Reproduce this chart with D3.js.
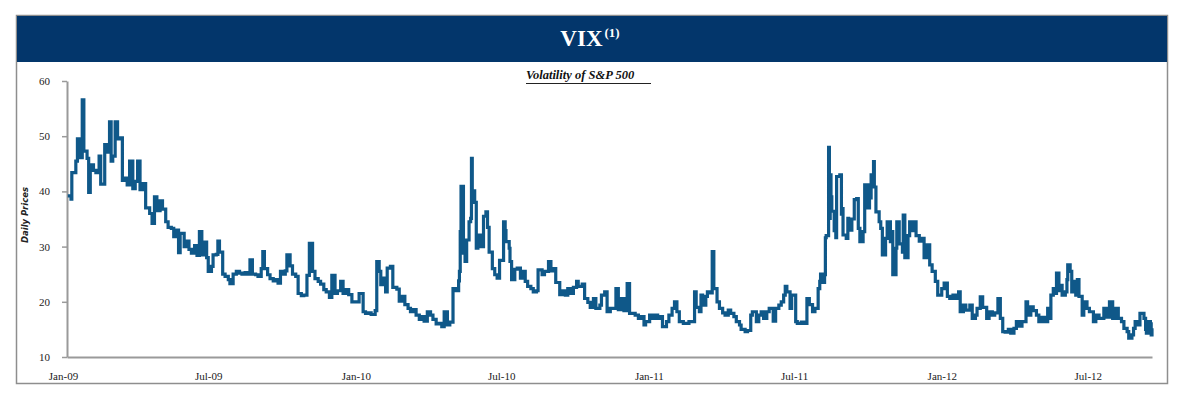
<!DOCTYPE html>
<html>
<head>
<meta charset="utf-8">
<script src="https://cdn.jsdelivr.net/npm/d3@7"></script>
<style>
  body { margin: 0; background: #fff; }
  svg { display: block; }
</style>
</head>
<body>
<svg id="chart"></svg>
<script>
const dates = [
  // 2009
  "2009-01-02","2009-01-06","2009-01-07","2009-01-12","2009-01-14","2009-01-16","2009-01-20","2009-01-22","2009-01-26","2009-01-28","2009-01-30",
  "2009-02-03","2009-02-06","2009-02-10","2009-02-12","2009-02-17","2009-02-20","2009-02-23","2009-02-25","2009-02-27",
  "2009-03-02","2009-03-05","2009-03-09","2009-03-11","2009-03-13","2009-03-17","2009-03-20","2009-03-24","2009-03-27","2009-03-30",
  "2009-04-02","2009-04-06","2009-04-09","2009-04-14","2009-04-17","2009-04-20","2009-04-23","2009-04-27","2009-04-30",
  "2009-05-04","2009-05-07","2009-05-11","2009-05-14","2009-05-18","2009-05-20","2009-05-22","2009-05-27","2009-05-29",
  "2009-06-02","2009-06-05","2009-06-09","2009-06-12","2009-06-15","2009-06-18","2009-06-22","2009-06-24","2009-06-26","2009-06-30",
  "2009-07-02","2009-07-06","2009-07-08","2009-07-10","2009-07-14","2009-07-17","2009-07-21","2009-07-23","2009-07-27","2009-07-31",
  "2009-08-04","2009-08-07","2009-08-11","2009-08-14","2009-08-17","2009-08-20","2009-08-24","2009-08-27","2009-08-31",
  "2009-09-02","2009-09-04","2009-09-08","2009-09-11","2009-09-15","2009-09-18","2009-09-21","2009-09-24","2009-09-28","2009-09-30",
  "2009-10-02","2009-10-06","2009-10-09","2009-10-13","2009-10-16","2009-10-20","2009-10-23","2009-10-27","2009-10-30",
  "2009-11-03","2009-11-06","2009-11-10","2009-11-13","2009-11-17","2009-11-20","2009-11-24","2009-11-27",
  "2009-12-01","2009-12-04","2009-12-08","2009-12-11","2009-12-15","2009-12-18","2009-12-22","2009-12-28","2009-12-31",
  // 2010
  "2010-01-05","2010-01-08","2010-01-12","2010-01-15","2010-01-20","2010-01-22","2010-01-25","2010-01-27","2010-01-29",
  "2010-02-02","2010-02-04","2010-02-08","2010-02-11","2010-02-16","2010-02-19","2010-02-23","2010-02-26",
  "2010-03-02","2010-03-05","2010-03-09","2010-03-12","2010-03-16","2010-03-19","2010-03-22","2010-03-26","2010-03-30",
  "2010-04-02","2010-04-06","2010-04-09","2010-04-13","2010-04-16","2010-04-20","2010-04-23","2010-04-27","2010-04-30",
  "2010-05-04","2010-05-05","2010-05-06","2010-05-07","2010-05-10","2010-05-12","2010-05-14","2010-05-17","2010-05-19","2010-05-20","2010-05-21","2010-05-24","2010-05-26","2010-05-28",
  "2010-06-01","2010-06-04","2010-06-07","2010-06-09","2010-06-11","2010-06-15","2010-06-18","2010-06-21","2010-06-24","2010-06-29",
  "2010-07-01","2010-07-02","2010-07-06","2010-07-07","2010-07-09","2010-07-13","2010-07-16","2010-07-20","2010-07-22","2010-07-26","2010-07-29",
  "2010-08-02","2010-08-05","2010-08-09","2010-08-11","2010-08-16","2010-08-19","2010-08-24","2010-08-27","2010-08-31",
  "2010-09-02","2010-09-07","2010-09-10","2010-09-14","2010-09-17","2010-09-21","2010-09-24","2010-09-28","2010-09-30",
  "2010-10-05","2010-10-08","2010-10-12","2010-10-15","2010-10-19","2010-10-22","2010-10-27","2010-10-29",
  "2010-11-02","2010-11-05","2010-11-09","2010-11-12","2010-11-16","2010-11-19","2010-11-23","2010-11-26","2010-11-30",
  "2010-12-03","2010-12-07","2010-12-10","2010-12-14","2010-12-17","2010-12-21","2010-12-23","2010-12-28","2010-12-31",
  // 2011
  "2011-01-04","2011-01-07","2011-01-11","2011-01-13","2011-01-18","2011-01-21","2011-01-25","2011-01-28","2011-01-31",
  "2011-02-03","2011-02-08","2011-02-11","2011-02-15","2011-02-18","2011-02-22","2011-02-24","2011-02-28",
  "2011-03-02","2011-03-04","2011-03-08","2011-03-10","2011-03-14","2011-03-16","2011-03-18","2011-03-22","2011-03-25","2011-03-29",
  "2011-04-01","2011-04-05","2011-04-08","2011-04-12","2011-04-15","2011-04-19","2011-04-21","2011-04-26","2011-04-29",
  "2011-05-03","2011-05-05","2011-05-10","2011-05-13","2011-05-16","2011-05-19","2011-05-23","2011-05-26","2011-05-31",
  "2011-06-03","2011-06-07","2011-06-10","2011-06-13","2011-06-15","2011-06-17","2011-06-21","2011-06-23","2011-06-28","2011-06-30",
  "2011-07-05","2011-07-08","2011-07-12","2011-07-15","2011-07-19","2011-07-22","2011-07-26","2011-07-28","2011-07-29",
  "2011-08-01","2011-08-03","2011-08-04","2011-08-05","2011-08-08","2011-08-09","2011-08-10","2011-08-11","2011-08-12","2011-08-15","2011-08-17","2011-08-18","2011-08-22","2011-08-24","2011-08-25","2011-08-26","2011-08-30",
  "2011-09-01","2011-09-02","2011-09-06","2011-09-09","2011-09-12","2011-09-14","2011-09-16","2011-09-20","2011-09-22","2011-09-26","2011-09-28","2011-09-30",
  "2011-10-03","2011-10-04","2011-10-06","2011-10-10","2011-10-12","2011-10-14","2011-10-18","2011-10-20","2011-10-24","2011-10-25","2011-10-27","2011-10-31",
  "2011-11-01","2011-11-04","2011-11-08","2011-11-09","2011-11-11","2011-11-15","2011-11-17","2011-11-21","2011-11-23","2011-11-25","2011-11-29",
  "2011-12-02","2011-12-05","2011-12-08","2011-12-12","2011-12-15","2011-12-19","2011-12-22","2011-12-27","2011-12-30",
  // 2012
  "2012-01-03","2012-01-06","2012-01-10","2012-01-13","2012-01-17","2012-01-19","2012-01-23","2012-01-26","2012-01-31",
  "2012-02-03","2012-02-07","2012-02-09","2012-02-13","2012-02-16","2012-02-21","2012-02-24","2012-02-28",
  "2012-03-02","2012-03-06","2012-03-09","2012-03-12","2012-03-15","2012-03-19","2012-03-22","2012-03-26","2012-03-29",
  "2012-04-02","2012-04-05","2012-04-10","2012-04-12","2012-04-16","2012-04-19","2012-04-23","2012-04-26","2012-04-30",
  "2012-05-03","2012-05-07","2012-05-09","2012-05-11","2012-05-14","2012-05-16","2012-05-18","2012-05-21","2012-05-23","2012-05-25","2012-05-29","2012-05-31",
  "2012-06-01","2012-06-04","2012-06-06","2012-06-08","2012-06-11","2012-06-13","2012-06-15","2012-06-19","2012-06-21","2012-06-25","2012-06-28",
  "2012-07-03","2012-07-06","2012-07-10","2012-07-13","2012-07-16","2012-07-19","2012-07-23","2012-07-25","2012-07-27","2012-07-31",
  "2012-08-03","2012-08-07","2012-08-10","2012-08-14","2012-08-16","2012-08-20","2012-08-22","2012-08-24","2012-08-27","2012-08-30",
  "2012-09-04","2012-09-06","2012-09-07","2012-09-10","2012-09-12","2012-09-13","2012-09-14"
];

const vix = [
  // 2009
  39.2, 38.6, 43.4, 45.5, 49.5, 46.1, 56.6, 47.3, 46.0, 39.8, 44.8,
  43.8, 43.4, 46.4, 41.3, 48.5, 47.1, 52.6, 45.5, 46.4,
  52.6, 49.5, 49.7, 42.0, 42.4, 41.2, 45.5, 40.5, 41.8, 45.5,
  40.3, 41.4, 37.0, 36.0, 34.2, 39.0, 36.5, 38.3, 36.8,
  34.5, 33.5, 33.3, 31.8, 33.0, 28.9, 32.4, 30.0, 31.0,
  29.5, 28.8, 30.2, 28.4, 32.7, 28.5, 30.8, 28.0, 25.5, 26.4,
  28.5, 28.6, 31.0, 29.0, 25.0, 24.6, 24.0, 23.3, 25.0, 25.5,
  25.2, 25.0, 25.3, 25.0, 27.6, 25.0, 24.9, 24.6, 26.0,
  29.1, 26.0, 24.9, 24.2, 23.8, 24.0, 23.4, 25.5, 25.0, 25.6,
  28.5, 26.5, 25.0, 24.6, 21.5, 21.1, 21.2, 24.8, 30.6,
  25.5, 24.2, 23.7, 23.2, 22.2, 21.8, 20.8, 24.8,
  21.5, 22.0, 23.7, 21.5, 22.2, 21.3, 20.0, 20.0, 21.5,
  // 2010
  18.2, 17.9, 18.0, 17.7, 18.4, 27.3, 25.5, 23.1, 24.3,
  21.8, 26.1, 26.4, 22.6, 22.3, 20.1, 21.0, 19.5,
  18.8, 18.2, 18.6, 17.6, 16.8, 17.3, 16.5, 18.2, 17.6,
  16.8, 16.0, 16.1, 15.5, 18.2, 15.8, 16.3, 22.4, 22.0,
  23.8, 25.5, 32.7, 40.9, 28.8, 27.3, 31.2, 34.5, 35.1, 46.0, 40.1, 38.0, 29.7, 32.1,
  30.0, 35.5, 36.3, 33.5, 29.0, 26.0, 24.9, 24.3, 27.5, 34.5,
  32.9, 30.9, 29.7, 27.3, 24.0, 25.9, 26.1, 24.3, 25.5, 23.7, 22.8,
  22.4, 21.8, 22.0, 25.8, 24.9, 25.5, 27.3, 25.6, 26.0,
  23.5, 21.3, 22.0, 21.2, 22.4, 21.5, 22.6, 23.7, 22.8,
  23.2, 20.6, 19.9, 19.0, 20.6, 18.8, 19.4, 21.2,
  21.8, 18.2, 18.8, 18.8, 22.4, 18.6, 20.6, 18.4, 23.3,
  17.9, 17.9, 17.6, 17.0, 17.3, 15.8, 16.4, 17.6, 17.0,
  // 2011
  17.6, 17.0, 17.3, 15.5, 16.4, 17.6, 18.8, 20.0, 18.2,
  16.4, 16.1, 16.1, 16.4, 16.4, 21.8, 19.0, 18.2,
  21.2, 19.4, 21.0, 21.8, 21.6, 29.1, 22.4, 20.0, 18.8, 18.0,
  17.6, 18.5, 17.9, 17.3, 16.4, 15.8, 15.0, 14.6, 14.8,
  17.6, 18.2, 16.4, 17.6, 18.2, 17.0, 18.2, 18.8, 16.5,
  18.8, 19.4, 20.0, 21.2, 22.8, 21.8, 18.8, 21.2, 16.4, 16.1,
  16.3, 16.1, 20.6, 19.5, 18.2, 18.8, 22.4, 23.7, 25.0,
  23.5, 24.9, 31.6, 32.0, 48.0, 35.1, 43.0, 39.0, 36.4, 32.9, 31.6, 42.7, 43.0, 35.9, 36.9, 32.1, 31.5,
  35.1, 33.0, 35.0, 38.5, 38.7, 33.3, 30.9, 32.7, 41.2, 37.0, 38.8, 43.0,
  45.4, 40.8, 36.3, 34.5, 33.3, 28.5, 31.5, 34.5, 30.9, 32.7, 24.9, 29.7,
  34.5, 30.5, 29.0, 35.7, 28.0, 32.0, 34.5, 32.9, 34.5, 32.0, 31.0,
  31.5, 28.0, 30.3, 26.7, 25.5, 23.7, 21.2, 22.4, 23.4,
  // 2012
  21.0, 20.6, 21.2, 20.6, 21.8, 18.2, 19.4, 18.5, 19.4,
  17.0, 17.6, 18.8, 20.9, 19.0, 17.0, 18.2, 17.6,
  18.0, 20.6, 17.0, 14.6, 14.5, 15.0, 14.3, 15.2, 16.4,
  15.6, 16.4, 20.0, 17.6, 19.1, 18.4, 17.6, 16.4, 17.2,
  16.4, 18.8, 17.0, 21.2, 22.4, 21.5, 25.2, 22.0, 23.0, 21.2, 21.8, 24.0,
  26.7, 25.5, 21.8, 23.7, 21.2, 24.0, 21.0, 17.6, 20.0, 18.8, 18.2,
  16.4, 17.6, 17.0, 17.0, 18.8, 17.2, 20.0, 20.0, 17.0, 18.8,
  17.0, 16.4, 15.2, 14.6, 13.4, 14.0, 15.2, 16.4, 15.8, 17.9,
  17.0, 15.0, 14.3, 16.4, 16.0, 14.0, 15.2
];

const yTicks = [10, 20, 30, 40, 50, 60];
const xTickDates = ["2009-01-01", "2009-07-01", "2010-01-01", "2010-07-01", "2011-01-01", "2011-07-01", "2012-01-01", "2012-07-01"];
const xTickLabels = ["Jan-09", "Jul-09", "Jan-10", "Jul-10", "Jan-11", "Jul-11", "Jan-12", "Jul-12"];

if (dates.length !== vix.length) console.error("length mismatch", dates.length, vix.length);

const width = 1186, height = 393;
const parse = d3.utcParse("%Y-%m-%d");

const svg = d3.select("#chart")
    .attr("width", width)
    .attr("height", height)
    .attr("viewBox", [0, 0, width, height]);

// frame + header band
svg.append("rect")
    .attr("x", 16.5).attr("y", 15.5)
    .attr("width", 1151).attr("height", 368)
    .attr("fill", "#fff")
    .attr("stroke", "#8e8e8e")
    .attr("stroke-width", 1.5);

svg.append("rect")
    .attr("x", 17).attr("y", 16)
    .attr("width", 1150).attr("height", 46)
    .attr("fill", "#03366b");

const title = svg.append("text")
    .attr("x", 590).attr("y", 46)
    .attr("text-anchor", "middle")
    .attr("fill", "#fff")
    .attr("font-family", "'Liberation Serif', 'Times New Roman', serif")
    .attr("font-weight", "bold");
title.append("tspan").attr("font-size", 23).text("VIX");
title.append("tspan").attr("font-size", 13).attr("dx", 2).attr("dy", -9).text("(1)");

svg.append("text")
    .attr("x", 526).attr("y", 79)
    .attr("font-family", "'Liberation Serif', 'Times New Roman', serif")
    .attr("font-weight", "bold")
    .attr("font-style", "italic")
    .attr("font-size", 12.5)
    .attr("fill", "#111")
    .text("Volatility of S&P 500");

svg.append("line")
    .attr("x1", 526).attr("x2", 651)
    .attr("y1", 83.5).attr("y2", 83.5)
    .attr("stroke", "#222")
    .attr("stroke-width", 1.2);

// scales
const x = d3.scaleUtc()
    .domain([parse("2009-01-01"), parse("2012-09-14")])
    .range([67, 1152]);
const y = d3.scaleLinear()
    .domain([10, 60])
    .range([357, 81]);

const tickFont = "'Liberation Serif', 'Times New Roman', serif";

svg.append("g")
    .attr("transform", "translate(67,0)")
    .call(d3.axisLeft(y).tickValues(yTicks).tickSize(5).tickSizeOuter(0).tickPadding(12))
    .call(g => g.select(".domain").attr("stroke", "#9a9a9a").attr("stroke-width", 2))
    .call(g => g.selectAll(".tick line").attr("stroke", "#9a9a9a").attr("stroke-width", 1.5))
    .call(g => g.selectAll(".tick text")
        .attr("font-family", tickFont).attr("font-size", 11).attr("fill", "#222"));

svg.append("g")
    .attr("transform", "translate(0,357)")
    .call(d3.axisBottom(x)
        .tickValues(xTickDates.map(parse))
        .tickFormat((d, i) => xTickLabels[i])
        .tickSize(0).tickSizeOuter(0).tickPadding(15))
    .call(g => g.select(".domain").attr("stroke", "#9a9a9a").attr("stroke-width", 2))
    .call(g => g.selectAll(".tick text")
        .attr("dx", -4)
        .attr("font-family", tickFont).attr("font-size", 11).attr("fill", "#222"));

svg.append("text")
    .attr("transform", "translate(28,215) rotate(-90)")
    .attr("text-anchor", "middle")
    .attr("font-family", "'DejaVu Sans', sans-serif")
    .attr("font-weight", "bold")
    .attr("font-style", "italic")
    .attr("font-size", 8.5)
    .attr("fill", "#222")
    .text("Daily Prices");

// series: stepped like the dense daily trace
const line = d3.line()
    .curve(d3.curveStepAfter)
    .x((d, i) => x(parse(dates[i])))
    .y(d => y(d));

svg.append("path")
    .attr("fill", "none")
    .attr("stroke", "#0f5889")
    .attr("stroke-width", 3.2)
    .attr("stroke-linejoin", "miter")
    .attr("d", line(vix));
</script>
</body>
</html>
